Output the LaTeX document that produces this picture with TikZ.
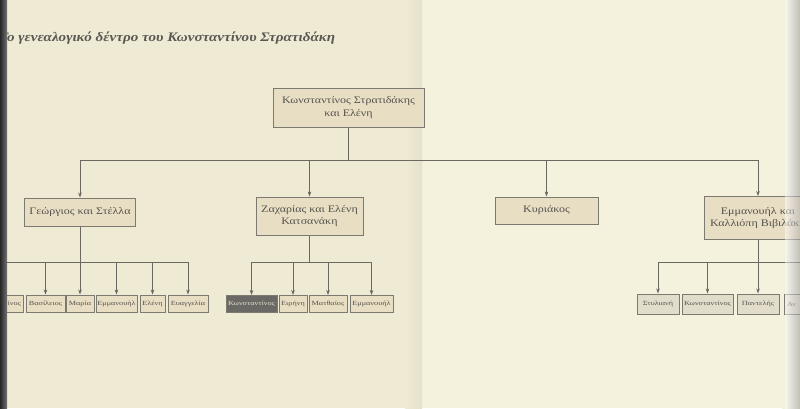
\documentclass[tikz,border=0pt]{standalone}
\usepackage{fontspec}
\setmainfont{Liberation Serif}
\newfontfamily\boxfont[FakeStretch=1.2]{Liberation Serif}
\newfontfamily\smallfont[FakeStretch=1.3]{Liberation Serif}
\newfontfamily\titlefont[FakeStretch=1.16]{Liberation Serif}
\usetikzlibrary{arrows.meta}
\definecolor{pageL}{HTML}{EFEAD3}
\definecolor{pageR}{HTML}{F4F1DD}
\definecolor{boxfill}{HTML}{E8DEC3}
\definecolor{boxfillR}{HTML}{E2DDCB}
\definecolor{boxline}{HTML}{7C7970}
\definecolor{linec}{HTML}{6A6862}
\definecolor{txt}{HTML}{55534E}
\definecolor{titlec}{HTML}{5A5853}
\definecolor{darkbox}{HTML}{6B6966}
\begin{document}
\begin{tikzpicture}[x=1pt,y=-1pt,
  box/.style={draw=boxline, fill=boxfill, line width=1pt, inner sep=0pt, align=center, text=txt},
  big/.style={box, font=\boxfont\fontsize{10}{12.5}\selectfont},
  small/.style={box, font=\smallfont\fontsize{6.3}{7}\selectfont, minimum height=17pt},
  smallR/.style={small, fill=boxfillR, minimum height=20pt},
  link/.style={draw=linec, line width=0.8pt},
  arr/.style={link, -{Stealth[length=5pt,width=3.6pt]}}]
\useasboundingbox (0,0) rectangle (800,408);
\clip (0,0) rectangle (800,408);
% pages
\fill[pageL] (0,0) rectangle (422,408);
\fill[pageR] (422,0) rectangle (800,408);
\shade[left color=pageL, right color=pageL!96!black] (405,0) rectangle (422,408);
\shade[left color=pageR, right color=pageR!80!gray] (782,0) rectangle (800,408);
% title
\node[anchor=base west, inner sep=0pt, text=titlec, font=\titlefont\fontsize{13}{15}\selectfont\bfseries\itshape] (title) at (-1,41) {Το γενεαλογικό δέντρο του Κωνσταντίνου Στρατιδάκη};
% top
\node[big, minimum width=151pt, minimum height=39pt] (top) at (348.5,107.5) {Κωνσταντίνος Στρατιδάκης\\και Ελένη};
% second row
\node[big, minimum width=111pt, minimum height=28pt] (geo) at (80,212) {Γεώργιος και Στέλλα};
\node[big, minimum width=107pt, minimum height=38pt] (zac) at (309.5,216) {Ζαχαρίας και Ελένη\\Κατσανάκη};
\node[big, minimum width=103pt, minimum height=27pt] (kyr) at (546.5,210.5) {Κυριάκος};
\node[big, minimum width=108pt, minimum height=43pt] (emm) at (758,218) {Εμμανουήλ και\\Καλλιόπη Βιβιλάκη};
% bus coordinates
\coordinate (bus1) at (0,160);
\coordinate (bus2) at (0,262);
% top connectors
\draw[link] (top.south) -- (top.south |- bus1);
\draw[link] (geo.north |- bus1) -- (emm.north |- bus1);
\foreach \n in {geo,zac,kyr,emm} \draw[arr] (\n.north |- bus1) -- (\n.north);
% left group
\node[small, minimum width=51pt] (g0) at (-2.5,303.5) {Κωνσταντίνος};
\node[small, minimum width=39pt] (g1) at (45.5,303.5) {Βασίλειος};
\node[small, minimum width=28pt] (g2) at (80,303.5) {Μαρία};
\node[small, minimum width=41pt] (g3) at (116.5,303.5) {Εμμανουήλ};
\node[small, minimum width=25pt] (g4) at (152.5,303.5) {Ελένη};
\node[small, minimum width=40pt] (g5) at (188,303.5) {Ευαγγελία};
\draw[link] (geo.south) -- (geo.south |- bus2);
\draw[link] (g0.north |- bus2) -- (g5.north |- bus2);
\foreach \n in {g0,g1,g2,g3,g4,g5} \draw[arr] (\n.north |- bus2) -- (\n.north);
% middle group
\node[small, minimum width=51pt, fill=darkbox, text=pageL!90!gray] (z1) at (251.5,304) {Κωνσταντίνος};
\node[small, minimum width=28pt] (z2) at (293,304) {Ειρήνη};
\node[small, minimum width=38pt] (z3) at (328,304) {Ματθαίος};
\node[small, minimum width=43pt] (z4) at (371.5,304) {Εμμανουήλ};
\draw[link] (zac.south) -- (zac.south |- bus2);
\draw[link] (z1.north |- bus2) -- (z4.north |- bus2);
\foreach \n in {z1,z2,z3,z4} \draw[arr] (\n.north |- bus2) -- (\n.north);
% right group
\node[smallR, minimum width=42pt] (e1) at (658,304) {Στυλιανή};
\node[smallR, minimum width=51pt] (e2) at (707.5,304) {Κωνσταντίνος};
\node[smallR, minimum width=42pt] (e3) at (758,304) {Παντελής};
\node[smallR, minimum width=46pt, text width=40pt, align=left] (e4) at (807,304) {Αν};
\draw[link] (emm.south) -- (emm.south |- bus2);
\draw[link] (e1.north |- bus2) -- (e4.north |- bus2);
\foreach \n in {e1,e2,e3,e4} \draw[arr] (\n.north |- bus2) -- (\n.north);
% right edge shadow over content
\shade[left color=pageR!0, right color=gray!70, opacity=0.5] (785,0) rectangle (800,408);
% dark left edge
\shade[left color=black!85, right color=black!55] (0,0) rectangle (7,408);
\end{tikzpicture}
\end{document}
